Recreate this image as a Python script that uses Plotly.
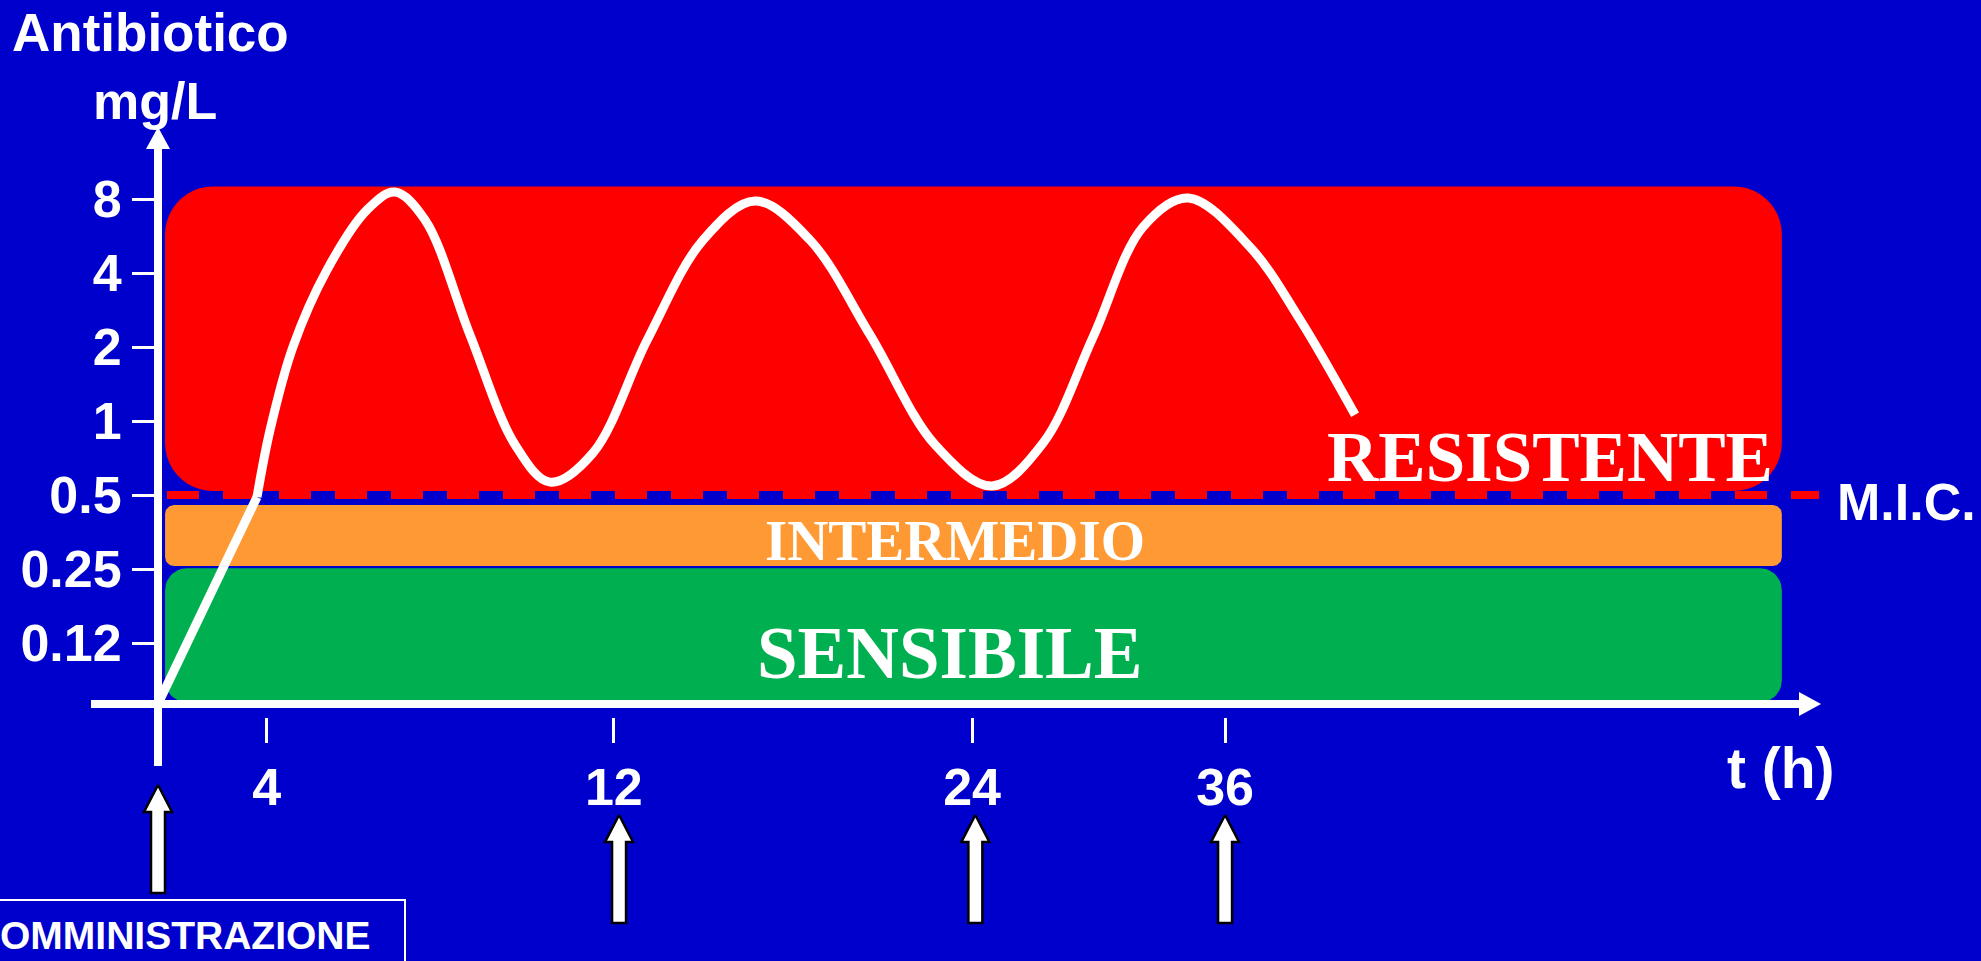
import numpy as np
import plotly.graph_objects as go

# ---------------- data ----------------
# schematic time axis units (the x axis of the slide is not to scale)
tick_pos = [4.0, 16.76, 29.93, 39.23]
tick_text = ["4", "12", "24", "36"]

y_tick_vals = [8, 4, 2, 1, 0.5, 0.25, 0.125]
y_tick_text = ["8", "4", "2", "1", "0.5", "0.25", "0.12"]

mic_value = 0.5

# concentration curve: initial straight rise, then oscillation
rise_t = [0.0, 3.64]
rise_conc = [0.0707, 0.491]

curve_t = [3.64, 4.12, 4.96, 6.21, 7.68, 8.71, 9.82, 11.47, 13.13, 14.41,
           15.99, 17.99, 20.04, 21.95, 23.97, 26.18, 28.57, 30.66,
           32.54, 34.38, 36.21, 37.87, 40.15, 41.99, 44.01]
curve_conc = [0.491, 0.919, 2.0, 4.11, 7.22, 8.54, 6.57, 2.24, 0.80, 0.564,
              0.741, 2.14, 5.45, 7.85, 5.45, 2.24, 0.80, 0.544,
              0.814, 2.20, 6.15, 8.08, 5.10, 2.58, 1.06]

# susceptibility bands (mg/L limits) and their horizontal extent
band_names = ["RESISTENTE", "INTERMEDIO", "SENSIBILE"]
band_low = [0.519, 0.257, 0.0717]
band_high = [9.0, 0.455, 0.252]
band_t0 = 0.26
band_t1 = 59.7
band_colors = ["#FF0000", "#FF9933", "#00B050"]
band_radius = [48, 9, 22]

mic_t = [0.33, 61.07]

# dose times (schematic axis units)
dose_pos = [0.0, 16.95, 30.05, 39.23]

# ---------------- geometry helpers ----------------
W, H = 1981, 961
X0 = 158.0        # pixel of t = 0
PXU = 27.2        # pixels per schematic unit
Y0 = 495.0        # pixel of 0.5 mg/L
PXD = 74.0 / np.log10(2)  # pixels per decade


def px2u(px):
    return (px - X0) / PXU


def py2v(py):
    return 0.5 * 10 ** ((Y0 - py) / PXD)


def u2px(u):
    return X0 + u * PXU


def v2py(v):
    return Y0 - (np.log10(v) - np.log10(0.5)) * PXD


def rounded_rect(u0, u1, v0, v1, r, n=12):
    x0, x1 = u2px(u0), u2px(u1)
    yt, yb = min(v2py(v0), v2py(v1)), max(v2py(v0), v2py(v1))
    pts = []
    corners = [(x1 - r, yt + r, -90, 0), (x1 - r, yb - r, 0, 90),
               (x0 + r, yb - r, 90, 180), (x0 + r, yt + r, 180, 270)]
    for cx, cy, a0, a1 in corners:
        for a in np.linspace(np.radians(a0), np.radians(a1), n):
            pts.append((cx + r * np.cos(a), cy + r * np.sin(a)))
    pts.append(pts[0])
    xs = [px2u(p[0]) for p in pts]
    ys = [py2v(p[1]) for p in pts]
    return xs, ys


def px_x(px):
    return px / W


def px_y(py):
    return 1 - py / H


SANS = "Liberation Sans, Arial, sans-serif"
SERIF = "Liberation Serif, Times New Roman, serif"
BLUE = "#0000CC"

fig = go.Figure()

# bands
for lo, hi, col, r in zip(band_low, band_high, band_colors, band_radius):
    xs, ys = rounded_rect(band_t0, band_t1, lo, hi, r)
    fig.add_trace(go.Scatter(x=xs, y=ys, mode="lines", fill="toself",
                             fillcolor=col, line=dict(width=0, color=col),
                             hoverinfo="skip", showlegend=False))

# MIC dashed line
fig.add_trace(go.Scatter(x=mic_t, y=[mic_value, mic_value], mode="lines",
                         line=dict(color="#FF0000", width=8, dash="32px,24px"),
                         hoverinfo="skip", showlegend=False))

# dose arrows
arrow_tip_py = [785, 815, 815, 815]
arrow_len = 108
for d, tip in zip(dose_pos, arrow_tip_py):
    dx = [0, 14, 7, 7, -7, -7, -14, 0]
    dy = [tip, tip + 27, tip + 27, tip + arrow_len, tip + arrow_len, tip + 27, tip + 27, tip]
    fig.add_trace(go.Scatter(x=[d + v / PXU for v in dx], y=[py2v(v) for v in dy],
                             mode="lines", fill="toself", fillcolor="white",
                             line=dict(color="black", width=2.5),
                             hoverinfo="skip", showlegend=False))

# concentration curve
fig.add_trace(go.Scatter(x=rise_t, y=rise_conc, mode="lines",
                         line=dict(color="white", width=9),
                         hoverinfo="skip", showlegend=False))
fig.add_trace(go.Scatter(x=curve_t, y=curve_conc, mode="lines",
                         line=dict(color="white", width=9, shape="spline", smoothing=1.0),
                         hoverinfo="skip", showlegend=False))

# axis lines + arrowheads (decoration)
shapes = [
    dict(type="line", xref="paper", yref="paper", x0=px_x(X0), x1=px_x(X0),
         y0=px_y(766), y1=px_y(142), line=dict(color="white", width=8)),
    dict(type="path", xref="paper", yref="paper",
         path=f"M {px_x(X0)},{px_y(127)} L {px_x(X0 + 12)},{px_y(149)} L {px_x(X0 - 12)},{px_y(149)} Z",
         fillcolor="white", line=dict(width=0)),
    dict(type="line", xref="paper", yref="paper", x0=px_x(91), x1=px_x(1803),
         y0=px_y(704), y1=px_y(704), line=dict(color="white", width=8)),
    dict(type="path", xref="paper", yref="paper",
         path=f"M {px_x(1821)},{px_y(704)} L {px_x(1799)},{px_y(692)} L {px_x(1799)},{px_y(716)} Z",
         fillcolor="white", line=dict(width=0)),
    dict(type="rect", xref="paper", yref="paper", x0=-0.01, x1=px_x(405),
         y0=-0.05, y1=px_y(900), line=dict(color="white", width=2), fillcolor="rgba(0,0,0,0)"),
]


def ann(text, px, py, size, family=SANS, xanchor="center"):
    return dict(text=text, xref="paper", yref="paper", x=px_x(px), y=px_y(py),
                xanchor=xanchor, yanchor="middle", showarrow=False,
                font=dict(family=family, size=size, color="white", weight="bold"))


annotations = [
    ann("Antibiotico", 10, 32, 53, xanchor="left"),
    ann("mg/L", 155, 101, 52),
    ann("t (h)", 1781, 768, 57),
    ann("M.I.C.", 1906, 502, 52),
    ann("RESISTENTE", 1550, 457, 71, SERIF),
    ann("INTERMEDIO", 955, 540, 57, SERIF),
    ann("SENSIBILE", 950, 653, 73, SERIF),
    ann("OMMINISTRAZIONE", -2, 935, 39, xanchor="left"),
]

fig.update_layout(
    width=W, height=H, margin=dict(l=0, r=0, t=0, b=0),
    paper_bgcolor=BLUE, plot_bgcolor=BLUE,
    showlegend=False, shapes=shapes, annotations=annotations,
    xaxis=dict(domain=[0, 1], range=[px2u(0), px2u(W)], anchor="free",
               position=px_y(717), showgrid=False, zeroline=False, showline=False,
               ticks="outside", ticklen=25, tickwidth=3, tickcolor="white",
               tickvals=tick_pos, ticktext=tick_text, fixedrange=True,
               tickfont=dict(family=SANS, size=52, color="white", weight="bold")),
    yaxis=dict(domain=[0, 1], type="log",
               range=[np.log10(py2v(H)), np.log10(py2v(0))], anchor="free",
               position=px_x(155), showgrid=False, zeroline=False, showline=False,
               ticks="outside", ticklen=23, tickwidth=3, tickcolor="white",
               tickvals=y_tick_vals, ticktext=y_tick_text, fixedrange=True,
               tickfont=dict(family=SANS, size=52, color="white", weight="bold")),
)

fig.write_html("out.html", config=dict(displayModeBar=False),
               post_script="document.body.style.margin='0';document.body.style.overflow='hidden';")
